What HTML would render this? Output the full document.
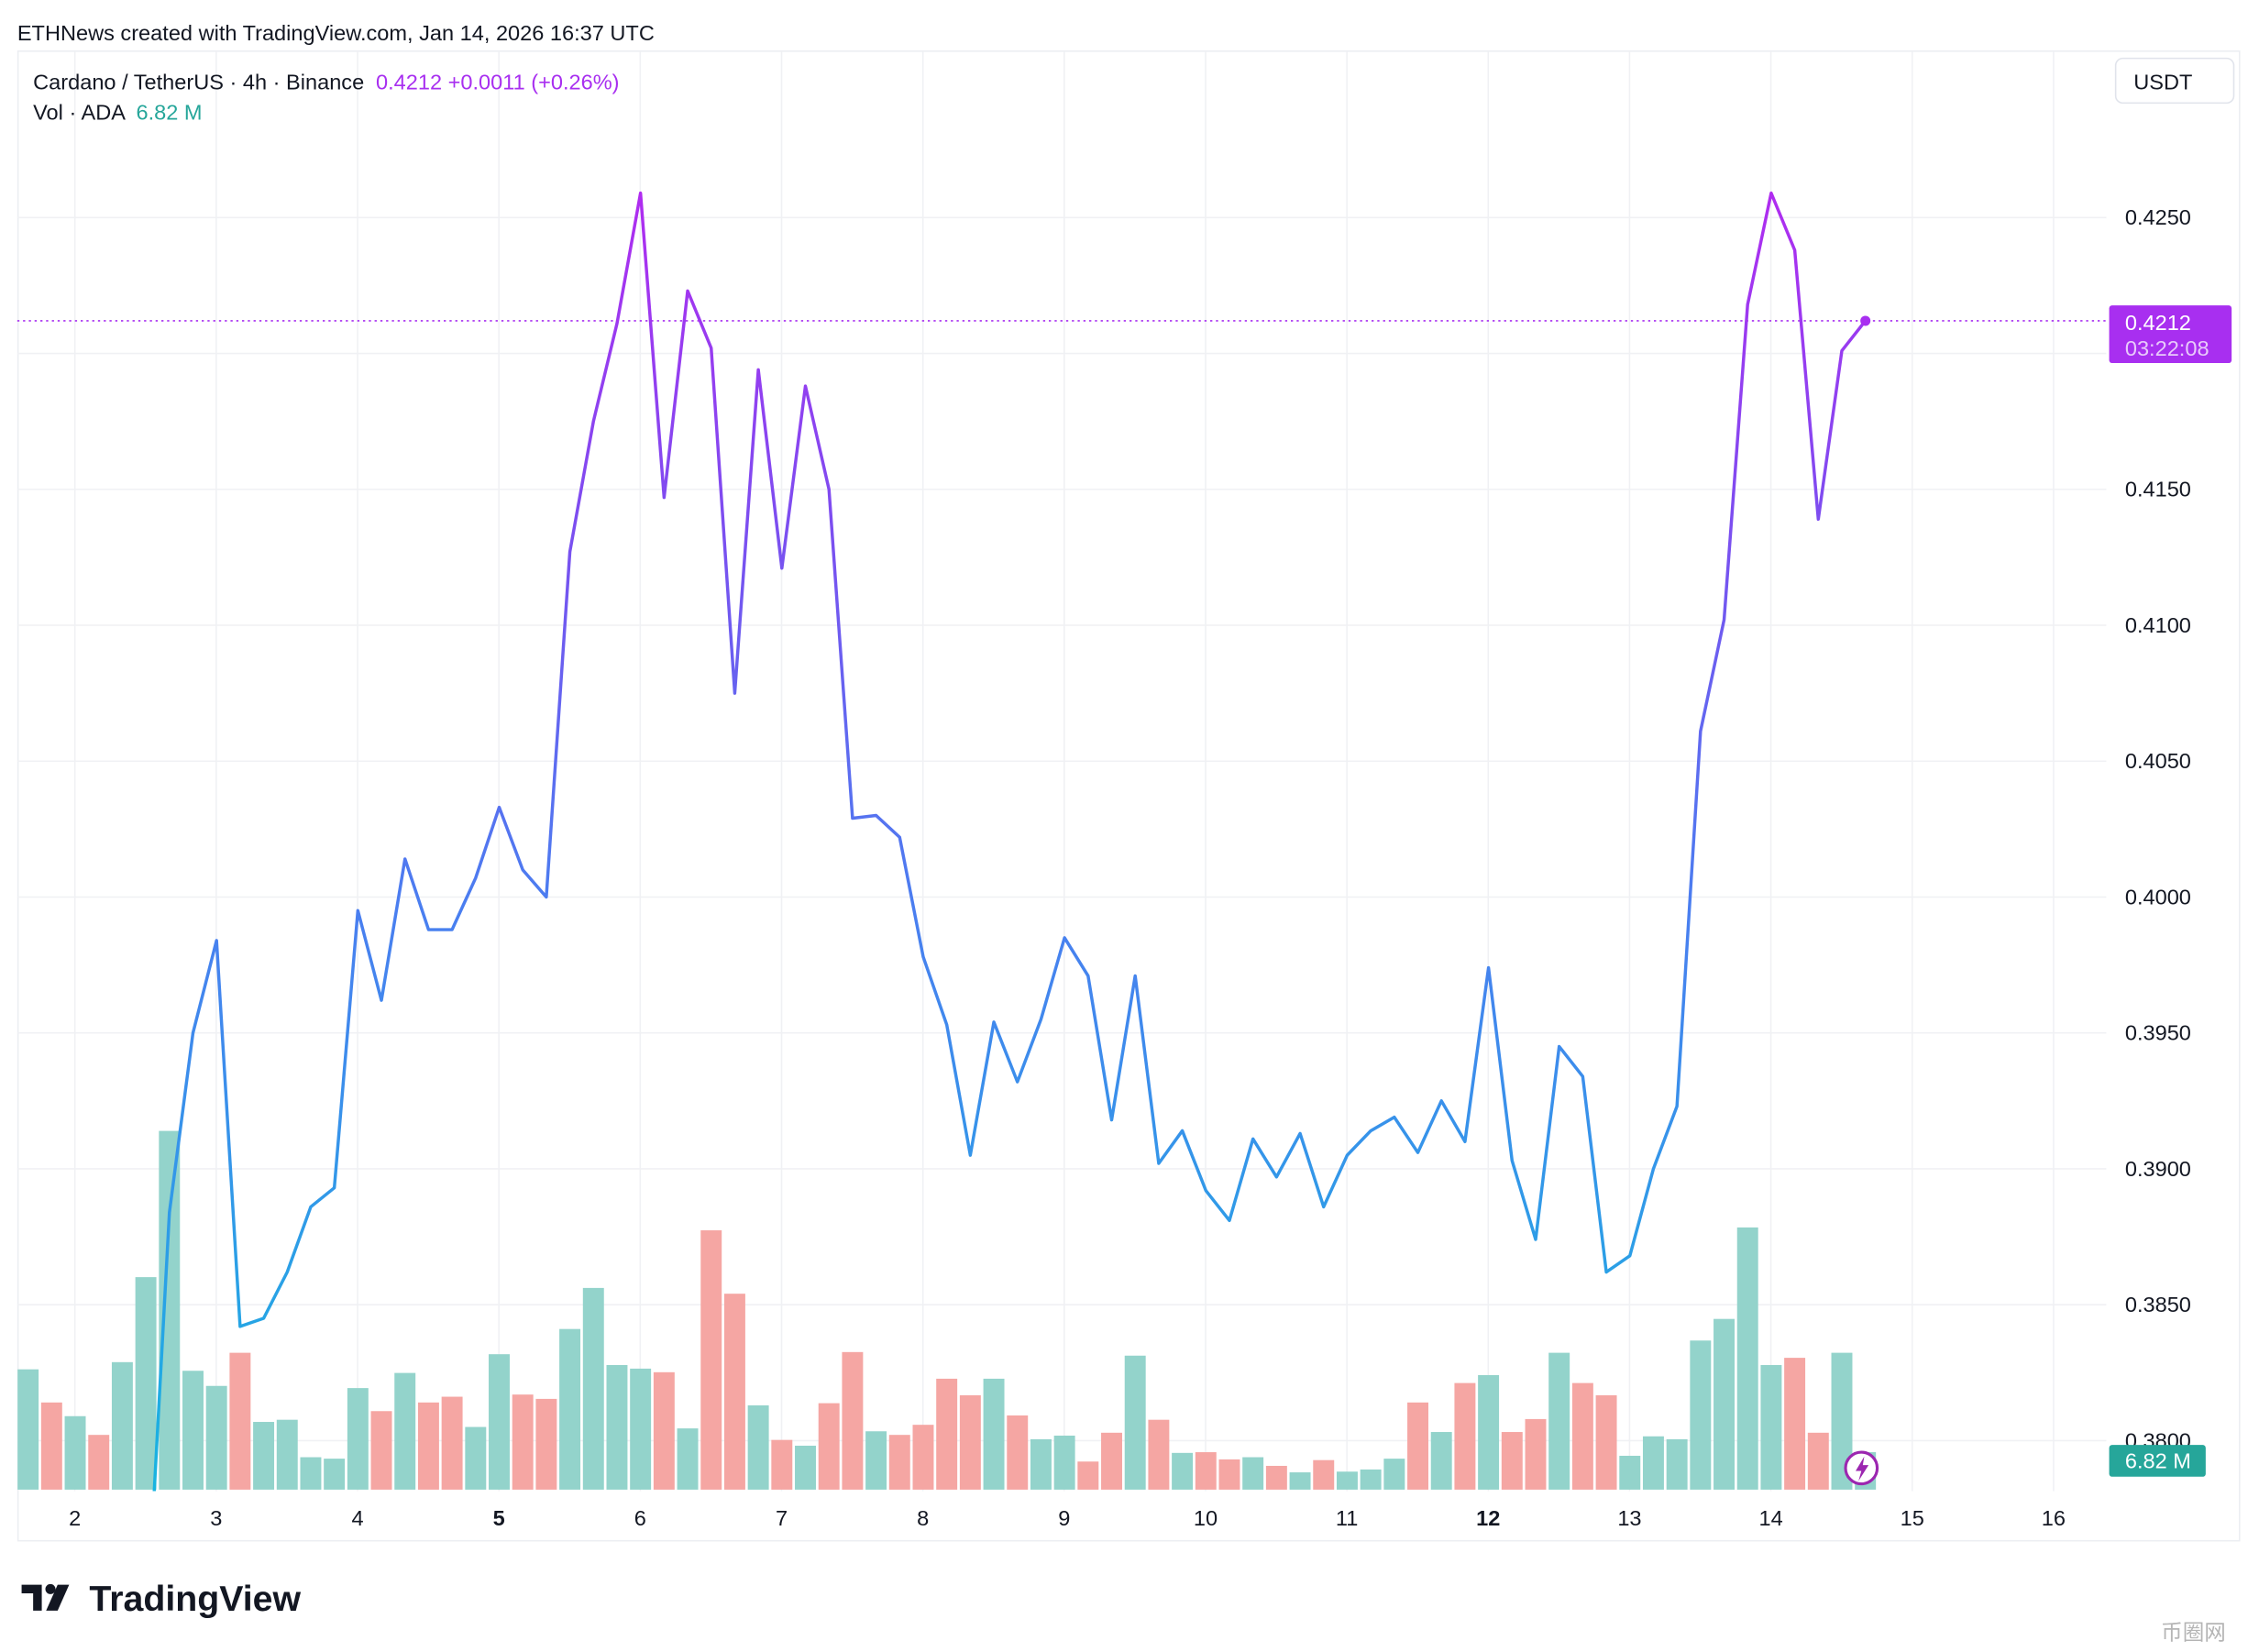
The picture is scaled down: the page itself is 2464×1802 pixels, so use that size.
<!DOCTYPE html>
<html><head><meta charset="utf-8"><style>
html,body{margin:0;padding:0;background:#fff;}
svg{display:block;font-family:"Liberation Sans",Arial,sans-serif;}
</style></head><body>
<svg id="chart" width="2464" height="1802" viewBox="0 0 1568 1146.7" preserveAspectRatio="none" xmlns="http://www.w3.org/2000/svg">
<defs>
<linearGradient id="lineGrad" gradientUnits="userSpaceOnUse" x1="0" y1="1035" x2="0" y2="134">
<stop offset="0" stop-color="#18b4e0"/><stop offset="0.45" stop-color="#4a7ef0"/><stop offset="0.75" stop-color="#7d4df0"/><stop offset="1" stop-color="#b02cf0"/>
</linearGradient>
<clipPath id="pane"><rect x="12" y="35" width="1450" height="1000"/></clipPath>
</defs>
<text x="12" y="28" font-size="15" fill="#131722">ETHNews created with TradingView.com, Jan 14, 2026 16:37 UTC</text>
<rect x="12.5" y="35.5" width="1542" height="1034" fill="none" stroke="#eceef2"/>
<g id="grid"></g>
<g id="volumes" clip-path="url(#pane)"></g>
<g id="priceLine" clip-path="url(#pane)"></g>
<g id="yAxis"></g>
<g id="xAxis"></g>
<g id="overlay"></g>
<text x="23" y="62" font-size="15" fill="#131722">Cardano / TetherUS · 4h · Binance <tspan fill="#a82ff0" dx="4">0.4212  +0.0011 (+0.26%)</tspan></text>
<text x="23" y="83" font-size="15" fill="#131722">Vol · ADA <tspan fill="#26a69a" dx="4">6.82 M</tspan></text>
<g><rect x="1468.5" y="40.5" width="82" height="31" rx="5" fill="#fff" stroke="#e0e3eb"/><text x="1481" y="62" font-size="15" fill="#131722">USDT</text></g>
<g><rect x="1464" y="212" width="85" height="40" rx="2" fill="#a82ff0"/><text x="1475" y="229" font-size="15" fill="#fff">0.4212</text><text x="1475" y="247" font-size="15" fill="#e8c9fb">03:22:08</text></g>
<g><rect x="1464" y="1003" width="67" height="22" rx="2" fill="#26a69a"/><text x="1475" y="1019" font-size="15" fill="#fff">6.82 M</text></g>
<g><circle cx="1292" cy="1019" r="11" fill="#fff" stroke="#9c27b0" stroke-width="2"/><path d="M1294 1011 L1288 1021 L1292 1021 L1290 1028 L1297 1017 L1293 1017 Z" fill="#9c27b0"/></g>
<g><path d="M15 1100 h14 v18 h-6 v-12 h-8 z" fill="#131722"/><circle cx="35" cy="1103" r="3.5" fill="#131722"/><path d="M40 1100 h8 l-8 18 h-8 z" fill="#131722"/><text x="62" y="1118" font-size="25" font-weight="bold" fill="#131722">TradingView</text></g>
<text x="1500" y="1138" font-size="15" fill="#b5b5b5" font-family="Liberation Sans,Noto Sans CJK SC,sans-serif">币圈网</text>
</svg>
<script>
var priceTicks=[0.3800,0.3850,0.3900,0.3950,0.4000,0.4050,0.4100,0.4150,0.4200,0.4250];
var dayLabels=["2","3","4","5","6","7","8","9","10","11","12","13","14","15","16"];
var dayValues=[2,3,4,5,6,7,8,9,10,11,12,13,14,15,16];
var boldDays=["5","12"];
var prices=[0.3725,0.3884,0.3950,0.3984,0.3842,0.3845,0.3862,0.3886,0.3893,0.3995,0.3962,0.4014,0.3988,0.3988,0.4007,0.4033,0.4010,0.4000,0.4127,0.4175,0.4211,0.4259,0.4147,0.4223,0.4202,0.4075,0.4194,0.4121,0.4188,0.4150,0.4029,0.4030,0.4022,0.3978,0.3953,0.3905,0.3954,0.3932,0.3955,0.3985,0.3971,0.3918,0.3971,0.3902,0.3914,0.3892,0.3881,0.3911,0.3897,0.3913,0.3886,0.3905,0.3914,0.3919,0.3906,0.3925,0.3910,0.3974,0.3903,0.3874,0.3945,0.3934,0.3862,0.3868,0.3900,0.3923,0.4061,0.4102,0.4218,0.4259,0.4238,0.4139,0.4201,0.4212];
var volumes=[16.7,12.1,10.2,7.6,17.7,29.5,49.8,16.5,14.4,19.0,9.4,9.7,4.5,4.3,14.1,10.9,16.2,12.1,12.9,8.7,18.8,13.2,12.6,22.3,28.0,17.3,16.8,16.3,8.5,36.0,27.2,11.7,6.9,6.1,12.0,19.1,8.1,7.6,9.0,15.4,13.1,15.4,10.3,7.0,7.5,3.9,7.9,18.6,9.7,5.1,5.2,4.2,4.5,3.3,2.4,4.1,2.5,2.8,4.3,12.1,8.0,14.8,15.9,8.0,9.8,19.0,14.8,13.1,4.7,7.4,7.0,20.7,23.7,36.4,17.3,18.3,7.9,19.0,5.2];
var volDirections=["g","r","g","r","g","g","g","g","g","r","g","g","g","g","g","r","g","r","r","g","g","r","r","g","g","g","g","r","g","r","r","g","r","g","r","r","g","r","r","r","r","g","r","g","g","r","r","g","r","g","r","r","g","r","g","r","g","g","g","r","g","r","g","r","r","g","r","r","g","g","g","g","g","g","g","r","r","g","g"];
var NS="http://www.w3.org/2000/svg";
function yP(p){return 151+(0.425-p)/0.005*94.33;}
function xDay(d){return 52+(d-2)*98.1;}
var barStep=98.1/6;
function xBar(i){return 19.5+i*barStep;}
function hVol(v){return v*5;}
function mk(tag,attrs,parent){var e=document.createElementNS(NS,tag);for(var k in attrs)e.setAttribute(k,attrs[k]);parent.appendChild(e);return e;}
var grid=document.getElementById('grid'),yA=document.getElementById('yAxis'),xA=document.getElementById('xAxis'),ov=document.getElementById('overlay');
priceTicks.forEach(function(p){
 var l=mk('line',{x1:12,x2:1462,y1:yP(p),y2:yP(p),stroke:'#f0f1f4','stroke-width':1},grid);
 
 
 var t=mk('text',{x:1475,y:yP(p)+5,'font-size':15,fill:'#131722'},yA);
 t.textContent=p.toFixed(4);
 
 
});
dayValues.forEach(function(d,i){
 var l=mk('line',{x1:xDay(d),x2:xDay(d),y1:36,y2:1035,stroke:'#f0f1f4','stroke-width':1},grid);
 
 
 var b=boldDays.indexOf(dayLabels[i])>=0;
 var t=mk('text',{x:xDay(d),y:1059,'font-size':15,fill:'#131722','text-anchor':'middle','font-weight':b?'bold':'normal'},xA);
 t.textContent=dayLabels[i];
 
 
});
var vg=document.getElementById('volumes');
volumes.forEach(function(v,i){
 var h=hVol(v),x=xBar(i);
 var r=mk('rect',{x:x-7.3,y:1034-h,width:14.6,height:h,fill:(volDirections[i]==='r')?'#f5a6a3':'#93d3cb'},vg);
 
 
});
var pts=prices.map(function(p,i){return xBar(i+5).toFixed(2)+','+yP(p).toFixed(2);}).join(' ');
var pl=mk('polyline',{points:pts,fill:'none',stroke:'url(#lineGrad)','stroke-width':2.2,'stroke-linejoin':'round'},document.getElementById('priceLine'));


var last=prices[prices.length-1];
var dl=mk('line',{x1:12,x2:1462,y1:yP(last),y2:yP(last),stroke:'#a82ff0','stroke-width':1,'stroke-dasharray':'1.5 2.5'},ov);


var dot=mk('circle',{cx:xBar(prices.length-1+5),cy:yP(last),r:3.5,fill:'#a82ff0'},ov);


</script>
</body></html>
